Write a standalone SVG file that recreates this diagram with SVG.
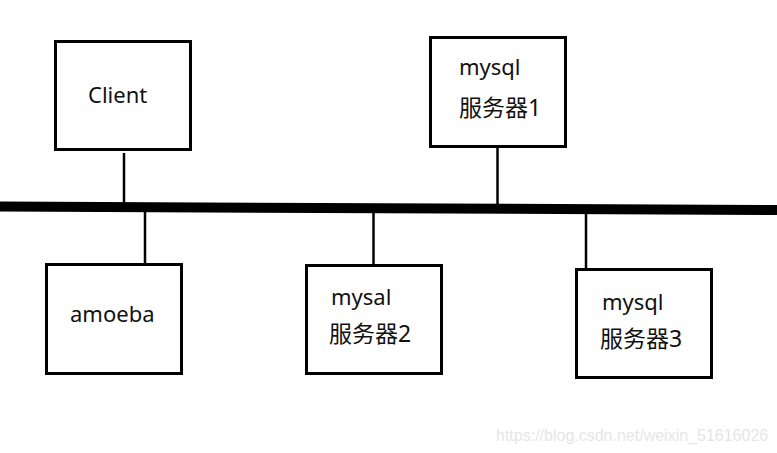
<svg xmlns="http://www.w3.org/2000/svg" width="777" height="453" viewBox="0 0 777 453">
<style>
.box{fill:#fff;stroke:#000;stroke-width:3}
.t{font-family:"Noto Sans","Noto Sans CJK SC",sans-serif;font-size:22px;fill:#111}
.cjk{font-size:23px}
.c{stroke:#000;stroke-width:2.5;fill:none}
.bus{stroke:#000;stroke-width:10;fill:none}
.wm{font-family:"Liberation Sans",Arial,sans-serif;font-size:16px;fill:#e6e6e6}
</style>
<rect width="777" height="453" fill="#fff"/>
<g id="connectors">
<line class="bus" x1="0" y1="206.5" x2="777" y2="210"/>
<line class="c" x1="124" y1="153" x2="124" y2="204"/>
<line class="c" x1="145" y1="211" x2="145" y2="264"/>
<line class="c" x1="497.5" y1="147" x2="497.5" y2="206"/>
<line class="c" x1="373.5" y1="212" x2="373.5" y2="265"/>
<line class="c" x1="586" y1="213" x2="586" y2="270"/>
</g>
<g id="client">
<rect class="box" x="55.5" y="41.5" width="135" height="108"/>
<text class="t" x="88" y="103">Client</text>
</g>
<g id="mysql1">
<rect class="box" x="430.5" y="37.5" width="135" height="109"/>
<text class="t" x="459" y="75">mysql</text>
<text class="t cjk" x="459" y="116">服务器1</text>
</g>
<g id="amoeba">
<rect class="box" x="46.5" y="264.5" width="135" height="109"/>
<text class="t" x="70" y="322">amoeba</text>
</g>
<g id="mysql2">
<rect class="box" x="306.5" y="265.5" width="135" height="108"/>
<text class="t" x="331" y="305">mysal</text>
<text class="t cjk" x="329" y="342">服务器2</text>
</g>
<g id="mysql3">
<rect class="box" x="576.5" y="269.5" width="135" height="108"/>
<text class="t" x="602" y="310">mysql</text>
<text class="t cjk" x="600" y="347">服务器3</text>
</g>
<text class="wm" x="496" y="441">https://blog.csdn.net/weixin_51616026</text>
</svg>
